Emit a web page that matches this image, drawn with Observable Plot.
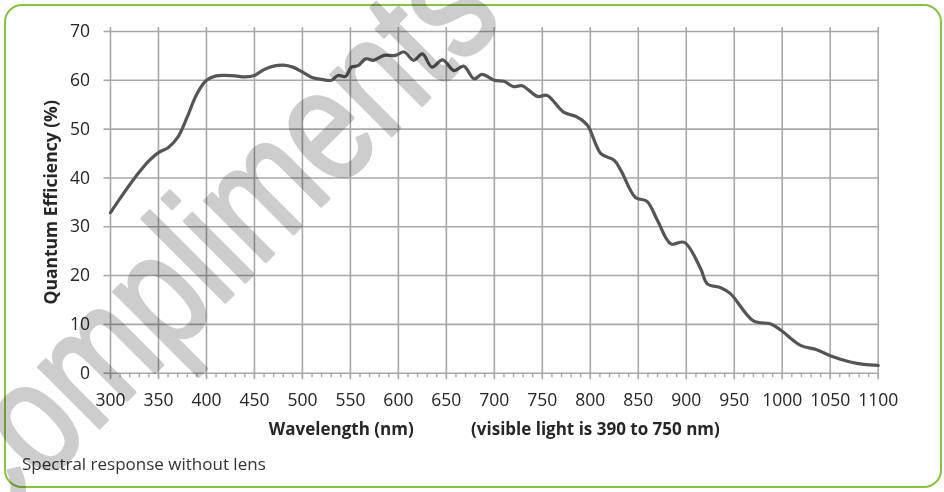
<!DOCTYPE html>
<html>
<head>
<meta charset="utf-8">
<script src="https://cdn.jsdelivr.net/npm/d3@7"></script>
<script src="https://cdn.jsdelivr.net/npm/@observablehq/plot@0.6"></script>
<style>
  html, body { margin: 0; padding: 0; background: #fff; }
  #wrap { position: relative; width: 944px; height: 492px; overflow: hidden; font-family: "Open Sans", sans-serif; background: #fff; isolation: isolate; }
  #frame { position: absolute; left: 4px; top: 4px; width: 938px; height: 484px; box-sizing: border-box;
           border: 2px solid #86c440; border-radius: 18px; pointer-events: none; }
  #chart { position: absolute; left: 0; top: 0; }
  #caption { position: absolute; left: 22px; top: 453px; font-size: 17px; line-height: 22px; color: #333; white-space: nowrap; }
  #watermark { position: absolute; left: 0; top: 0; width: 944px; height: 492px; pointer-events: none; mix-blend-mode: multiply; }
</style>
</head>
<body>
<div id="wrap">
  <div id="chart"></div>
  <div id="caption">Spectral response without lens</div>
  <div id="frame"></div>
  <svg id="watermark" width="944" height="492"></svg>
</div>
<script>
// Wavelength (nm) and quantum efficiency (%)
const wavelength = [300,310,320,330,340,350,360,370,380,390,400,410,420,430,440,450,460,470,480,490,500,510,520,530,537,545,551,558,566,574,585,597,606,616,625,635,646,658,668,679,687,700,710,720,729,745,755,772,786,797,811,825,832,847,859,870,884,898,915,922,936,946,970,988,998,1019,1036,1050,1071,1085,1100];
const efficiency = [32.9,35.8,38.6,41.2,43.5,45.2,46.2,48.3,52.5,57.2,60.0,60.9,61.0,60.9,60.7,61.0,62.2,62.9,63.1,62.7,61.7,60.6,60.2,60.0,61.0,60.8,62.7,63.0,64.4,64.1,65.1,65.1,65.8,64.1,65.4,62.7,64.2,62.0,62.9,60.3,61.2,60.0,59.8,58.7,58.9,56.7,56.9,53.5,52.5,50.8,45.0,43.6,41.5,36.0,35.2,31.3,26.5,26.8,21.4,18.3,17.5,16.3,10.7,10.1,8.9,5.7,4.8,3.6,2.3,1.8,1.6];
const xTicks = [300,350,400,450,500,550,600,650,700,750,800,850,900,950,1000,1050,1100];
const xMinorTicks = d3.range(300, 1101, 10);
const yTicks = [0,10,20,30,40,50,60,70];
const xLabel = "Wavelength (nm)\u00a0\u00a0\u00a0\u00a0\u00a0\u00a0\u00a0\u00a0\u00a0\u00a0\u00a0\u00a0\u00a0(visible light is 390 to 750 nm)";
const yLabel = "Quantum Efficiency (%)";
const watermarkText = "Compliments";

const data = wavelength.map((w, i) => ({w, v: efficiency[i]}));
const grid = "#a8a8a8";
const ink = "#262626";

const chart = Plot.plot({
  width: 944,
  height: 455,
  marginLeft: 110,
  marginRight: 66.3,
  marginTop: 31,
  marginBottom: 82.3,
  style: {fontFamily: "Open Sans, sans-serif", fontSize: "17px", color: ink, background: "transparent"},
  x: {domain: [300, 1100]},
  y: {domain: [0, 70]},
  marks: [
    Plot.gridX(xTicks, {stroke: grid, strokeOpacity: 1, strokeWidth: 1.6}),
    Plot.gridY(yTicks, {stroke: grid, strokeOpacity: 1, strokeWidth: 1.6}),
    Plot.axisX({anchor: "top", ticks: xTicks, tickSize: 5, tickFormat: () => "", label: null, stroke: grid, strokeWidth: 1.6}),
    Plot.axisX({anchor: "bottom", ticks: xMinorTicks, tickSize: 4.5, tickFormat: () => "", label: null, stroke: grid, strokeWidth: 1.4}),
    Plot.axisX({anchor: "bottom", ticks: xTicks, tickSize: 6.5, tickPadding: 13.5, label: null, stroke: grid, strokeWidth: 1.6, fill: ink, fontSize: 17.5, tickFormat: d => String(d)}),
    Plot.axisY({anchor: "left", ticks: yTicks, tickSize: 6.5, tickPadding: 14, label: null, stroke: grid, strokeWidth: 1.6, fill: ink, fontSize: 17.5}),
    Plot.line(data, {x: "w", y: "v", stroke: "#555", strokeWidth: 3.2, curve: "catmull-rom"}),
    Plot.text([xLabel], {text: d => d, frameAnchor: "bottom", textAnchor: "middle", dy: 62, fontWeight: "bold", fontSize: 17, fill: ink}),
    Plot.text([yLabel], {text: d => d, frameAnchor: "left", textAnchor: "middle", dx: -59, rotate: -90, fontWeight: "bold", fontSize: 17.5, fill: ink})
  ]
});
document.getElementById("chart").appendChild(chart);

// faint diagonal watermark from the source document
const wm = d3.select("#watermark");
wm.append("text")
  .attr("transform", "translate(-23,550) rotate(-45) scale(0.95,1.2)")
  .attr("font-family", "Liberation Sans, Arial, sans-serif")
  .attr("font-size", 135)
  .attr("fill", "#cdcdcd")
  .attr("stroke", "#cdcdcd")
  .attr("stroke-width", 3)
  .attr("stroke-linejoin", "round")
  .text(watermarkText);
</script>
</body>
</html>
